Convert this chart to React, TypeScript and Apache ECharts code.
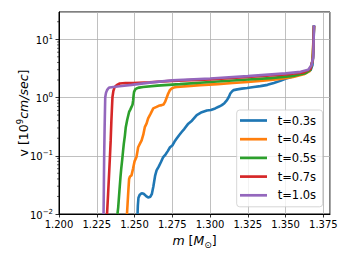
import React, { useEffect, useRef } from 'react';
import * as echarts from 'echarts';

const seriesNames = ['t=0.3s', 't=0.4s', 't=0.5s', 't=0.7s', 't=1.0s'];
const seriesColors = ['#1f77b4', '#ff7f0e', '#2ca02c', '#d62728', '#9467bd'];

const massT03 = [1.2520, 1.2522, 1.2526, 1.2535, 1.2547, 1.2560, 1.2575, 1.2590, 1.2605, 1.2615, 1.2625, 1.2636, 1.2646, 1.2660, 1.2675, 1.2690, 1.2705, 1.2720, 1.2735, 1.2750, 1.2765, 1.2779, 1.2795, 1.2812, 1.2830, 1.2856, 1.2880, 1.2912, 1.2945, 1.2979, 1.3005, 1.3034, 1.3060, 1.3078, 1.3095, 1.3112, 1.3125, 1.3134, 1.3145, 1.3156, 1.3180, 1.3210, 1.3245, 1.3290, 1.3333, 1.3380, 1.3422, 1.3470, 1.3511, 1.3560, 1.3600, 1.3635, 1.3666, 1.3678, 1.3684, 1.3688];
const velT03 = [0.0100, 0.0140, 0.0190, 0.0215, 0.0228, 0.0222, 0.0205, 0.0192, 0.0198, 0.0222, 0.0300, 0.0450, 0.0560, 0.0650, 0.0780, 0.0950, 0.105, 0.120, 0.140, 0.150, 0.175, 0.197, 0.225, 0.256, 0.290, 0.356, 0.400, 0.500, 0.560, 0.600, 0.610, 0.650, 0.700, 0.740, 0.800, 0.900, 1.03, 1.17, 1.27, 1.34, 1.38, 1.42, 1.46, 1.52, 1.57, 1.65, 1.78, 1.95, 2.15, 2.35, 2.50, 2.70, 2.95, 3.6, 6.0, 17.5];

const massT04 = [1.2450, 1.2454, 1.2459, 1.2464, 1.2470, 1.2480, 1.2490, 1.2500, 1.2513, 1.2524, 1.2535, 1.2547, 1.2558, 1.2568, 1.2580, 1.2590, 1.2605, 1.2624, 1.2635, 1.2646, 1.2660, 1.2680, 1.2692, 1.2702, 1.2712, 1.2723, 1.2735, 1.2746, 1.2760, 1.2779, 1.2850, 1.2934, 1.3050, 1.3150, 1.3250, 1.3350, 1.3450, 1.3550, 1.3620, 1.3660, 1.3678, 1.3688];
const velT04 = [0.0100, 0.0150, 0.0250, 0.0400, 0.0440, 0.0460, 0.0600, 0.0800, 0.0950, 0.140, 0.160, 0.184, 0.230, 0.310, 0.360, 0.440, 0.520, 0.650, 0.670, 0.690, 0.720, 0.740, 0.760, 0.840, 0.980, 1.17, 1.35, 1.43, 1.48, 1.52, 1.57, 1.63, 1.70, 1.78, 1.85, 1.95, 2.07, 2.25, 2.50, 2.85, 4.2, 17.0];

const massT05 = [1.2387, 1.2392, 1.2400, 1.2407, 1.2412, 1.2418, 1.2424, 1.2429, 1.2436, 1.2442, 1.2452, 1.2464, 1.2472, 1.2480, 1.2487, 1.2491, 1.2494, 1.2497, 1.2505, 1.2513, 1.2530, 1.2557, 1.2650, 1.2800, 1.3000, 1.3200, 1.3400, 1.3550, 1.3630, 1.3665, 1.3680, 1.3688];
const velT05 = [0.0100, 0.0130, 0.0250, 0.0430, 0.0600, 0.0830, 0.120, 0.160, 0.220, 0.310, 0.420, 0.565, 0.620, 0.690, 0.760, 0.900, 1.10, 1.25, 1.38, 1.43, 1.48, 1.52, 1.60, 1.70, 1.85, 2.00, 2.15, 2.35, 2.60, 3.00, 4.6, 17.0];

const massT07 = [1.2318, 1.2321, 1.2325, 1.2330, 1.2336, 1.2342, 1.2347, 1.2351, 1.2354, 1.2360, 1.2369, 1.2385, 1.2402, 1.2440, 1.2491, 1.2600, 1.2750, 1.3000, 1.3250, 1.3500, 1.3620, 1.3665, 1.3681, 1.3688];
const velT07 = [0.0100, 0.0140, 0.0220, 0.0400, 0.0830, 0.180, 0.410, 0.700, 1.02, 1.30, 1.52, 1.65, 1.74, 1.77, 1.78, 1.83, 1.93, 2.05, 2.25, 2.50, 2.70, 3.10, 4.6, 17.0];

const massT10 = [1.2295, 1.2297, 1.2299, 1.2302, 1.2306, 1.2311, 1.2318, 1.2327, 1.2335, 1.2360, 1.2400, 1.2480, 1.2600, 1.2750, 1.3000, 1.3250, 1.3500, 1.3600, 1.3650, 1.3672, 1.3683, 1.3688];
const velT10 = [0.0100, 0.0300, 0.100, 0.300, 1.00, 1.20, 1.34, 1.44, 1.49, 1.52, 1.56, 1.65, 1.80, 1.97, 2.12, 2.33, 2.60, 2.76, 3.00, 3.6, 5.0, 17.5];

const massSeries = [massT03, massT04, massT05, massT07, massT10];
const velSeries = [velT03, velT04, velT05, velT07, velT10];

const xMin = 1.2;
const xMax = 1.3794;
const xStep = 0.025;
const yMin = 0.01;
const yMax = 29.4;
const minorTickValues = [0.02, 0.03, 0.04, 0.05, 0.06, 0.07, 0.08, 0.09, 0.2, 0.3, 0.4, 0.5, 0.6, 0.7, 0.8, 0.9, 2, 3, 4, 5, 6, 7, 8, 9, 20];

const FONT = 'DejaVu Sans';

export default function App() {
  const ref = useRef<HTMLDivElement>(null);
  useEffect(() => {
    const chart = echarts.init(ref.current!, null, { renderer: 'svg' });
    const lineSeries = seriesNames.map((name, i) => ({
      name,
      type: 'line',
      data: massSeries[i].map((m, j) => [m, velSeries[i][j]]),
      showSymbol: false,
      symbol: 'none',
      color: seriesColors[i],
      lineStyle: { color: seriesColors[i], width: 2.6 },
      itemStyle: { color: seriesColors[i] },
      z: 3 + i,
    }));
    const option: any = {
      animation: false,
      grid: { left: 59, top: 12, right: 12, bottom: 43, show: true, borderColor: '#000', borderWidth: 1, backgroundColor: 'transparent' },
      xAxis: {
        type: 'value',
        min: xMin,
        max: xMax,
        interval: xStep,
        axisLine: { show: true, onZero: false, lineStyle: { color: '#000', width: 1 } },
        axisTick: { show: true, length: 3.5, lineStyle: { color: '#000', width: 0.8 } },
        axisLabel: {
          fontSize: 10,
          fontFamily: FONT,
          color: '#000',
          margin: 5,
          showMaxLabel: false,
          formatter: (v: number) => {
            const k = v / xStep;
            return Math.abs(k - Math.round(k)) < 1e-6 ? v.toFixed(3) : '';
          },
        },
        splitLine: { show: true, lineStyle: { color: '#b0b0b0', width: 0.8 } },
      },
      yAxis: {
        type: 'log',
        logBase: 10,
        min: yMin,
        max: yMax,
        axisLine: { show: true, lineStyle: { color: '#000', width: 1 } },
        axisTick: { show: true, length: 3.5, lineStyle: { color: '#000', width: 0.8 } },
        axisLabel: {
          fontSize: 10,
          fontFamily: FONT,
          color: '#000',
          margin: 6,
          showMaxLabel: false,
          formatter: (v: number) => {
            const e = Math.log10(v);
            const r = Math.round(e);
            if (Math.abs(e - r) > 1e-6) return '';
            const s = r < 0 ? '\u2212' + Math.abs(r) : String(r);
            return '{b|10}{s|' + s + '}';
          },
          rich: {
            b: { fontSize: 10, fontFamily: FONT, color: '#000', verticalAlign: 'bottom', lineHeight: 12 },
            s: { fontSize: 7, fontFamily: FONT, color: '#000', verticalAlign: 'bottom', lineHeight: 12, padding: [0, 0, 5, 0] },
          },
        },
        splitLine: { show: true, lineStyle: { color: '#b0b0b0', width: 0.8 } },
      },
      legend: {
        data: seriesNames,
        orient: 'vertical',
        left: 236.7,
        top: 110,
        icon: 'rect',
        itemWidth: 27,
        itemHeight: 2.7,
        itemGap: 4.7,
        padding: [3.5, 6.5, 4.5, 3.3],
        backgroundColor: 'rgba(255,255,255,0.8)',
        borderColor: '#cccccc',
        borderWidth: 0.8,
        borderRadius: 3,
        textStyle: { fontSize: 11.5, fontFamily: FONT, color: '#000', lineHeight: 14, padding: [0, 0, 0, 5.7] },
      },
      graphic: [
        {
          type: 'text',
          x: 22,
          y: 113,
          rotation: Math.PI / 2,
          style: {
            text: '{n|v [10}{s|9}{i|cm/sec}{n|]}',
            align: 'center',
            verticalAlign: 'middle',
            rich: {
              n: { fontSize: 12.5, fontFamily: FONT, fill: '#000', verticalAlign: 'bottom', lineHeight: 16 },
              s: { fontSize: 8.5, fontFamily: FONT, fill: '#000', verticalAlign: 'bottom', lineHeight: 16, padding: [0, 0, 6, 0] },
              i: { fontSize: 12.5, fontFamily: FONT, fontStyle: 'italic', fill: '#000', verticalAlign: 'bottom', lineHeight: 16 },
            },
          },
        },
        {
          type: 'text',
          x: 194.5,
          y: 239,
          style: {
            text: '{i|m}{n| [}{i|M}{s|\u2299}{n|]}',
            align: 'center',
            verticalAlign: 'middle',
            rich: {
              n: { fontSize: 12.5, fontFamily: FONT, fill: '#000', verticalAlign: 'bottom', lineHeight: 16 },
              i: { fontSize: 12.5, fontFamily: FONT, fontStyle: 'italic', fill: '#000', verticalAlign: 'bottom', lineHeight: 16 },
              s: { fontSize: 9, fontFamily: FONT, fill: '#000', verticalAlign: 'bottom', lineHeight: 16, padding: [0, 0, -2, 0] },
            },
          },
        },
      ],
      series: [
        ...lineSeries,
        {
          type: 'custom',
          name: 'minorTicks',
          silent: true,
          clip: false,
          z: 10,
          data: minorTickValues.map((v) => [xMin, v]),
          renderItem: (_params: any, api: any) => {
            const p = api.coord([api.value(0), api.value(1)]);
            return {
              type: 'line',
              shape: { x1: p[0] - 2, y1: p[1], x2: p[0], y2: p[1] },
              style: { stroke: '#000', lineWidth: 0.6 },
            };
          },
        },
      ],
    };
    chart.setOption(option);
    return () => chart.dispose();
  }, []);
  return <div ref={ref} style={{ position: 'absolute', left: 0, top: 0, width: 342, height: 257 }} />;
}
